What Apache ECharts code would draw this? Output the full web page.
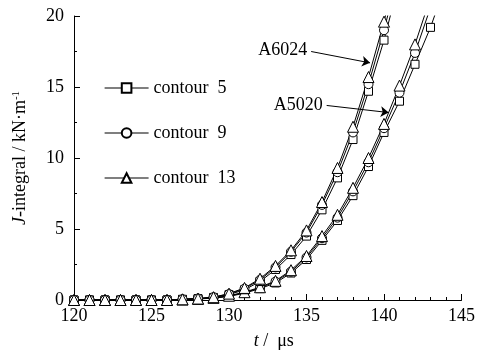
<!DOCTYPE html>
<html>
<head>
    <meta charset="utf-8" />
    <title>J-integral</title>
    <script src="https://cdn.jsdelivr.net/npm/echarts@6.0.0/dist/echarts.min.js"></script>
</head>
<body style="margin:0">
    <div id="main" style="width: 478px;height:355px;"></div>
    <script type="text/javascript">
        // time steps (μs)
        var times = [120, 121, 122, 123, 124, 125, 126, 127, 128, 129, 130, 131, 132,
            133, 134, 135, 136, 137, 138, 139, 140, 141, 142, 143, 144];

        // A6024 curves (kN·m-1)
        var a6024_c5 = [0, 0, 0, 0, 0, 0, 0, 0.05, 0.1, 0.18, 0.38, 0.72, 1.3, 2.15, 3.2, 4.5, 6.35, 8.6, 11.3, 14.7, 18.3, 22.5];
        var a6024_c9 = [0, 0, 0, 0, 0, 0, 0, 0.05, 0.1, 0.2, 0.42, 0.8, 1.42, 2.3, 3.4, 4.75, 6.7, 9.0, 11.8, 15.2, 19.0, 23.3];
        var a6024_c13 = [0, 0, 0, 0, 0, 0, 0, 0.05, 0.1, 0.2, 0.45, 0.85, 1.5, 2.4, 3.5, 4.9, 6.9, 9.3, 12.2, 15.7, 19.6, 24.0];
        // A5020 curves
        var a5020_c5 = [0, 0, 0, 0, 0, 0, 0, 0.03, 0.07, 0.13, 0.25, 0.48, 0.8, 1.2, 1.9, 2.85, 4.2, 5.6, 7.35, 9.4, 11.8, 14.0, 16.6, 19.2, 22.3];
        var a5020_c9 = [0, 0, 0, 0, 0, 0, 0, 0.03, 0.08, 0.14, 0.28, 0.52, 0.85, 1.3, 2.0, 3.0, 4.35, 5.8, 7.65, 9.7, 12.1, 14.6, 17.4, 20.6, 24.0];
        var a5020_c13 = [0, 0, 0, 0, 0, 0, 0, 0.03, 0.08, 0.15, 0.3, 0.55, 0.9, 1.35, 2.1, 3.1, 4.5, 6.0, 7.9, 10.0, 12.4, 15.1, 18.0, 21.3, 24.8];

        var legendNames = ['contour 5', 'contour 9', 'contour 13'];
        var xTicks = [120, 125, 130, 135, 140, 145];
        var yTicks = [0, 5, 10, 15, 20];

        var font = 'Liberation Serif';

        function pairs(vals) {
            return vals.map(function (v, i) { return [times[i], v]; });
        }

        function mkSeries(name, vals, symbol, size, extra) {
            var s = {
                name: name,
                type: 'line',
                data: pairs(vals),
                symbol: symbol,
                symbolSize: size,
                showAllSymbol: true,
                clip: true,
                lineStyle: { color: '#000', width: 1 },
                itemStyle: { color: '#fff', borderColor: '#000', borderWidth: 1 },
                emphasis: { disabled: true },
                animation: false
            };
            if (extra) { s.markLine = extra; }
            return s;
        }

        var arrows = {
            silent: true,
            animation: false,
            symbol: ['none', 'arrow'],
            symbolSize: 8,
            lineStyle: { color: '#000', width: 1, type: 'solid' },
            label: {
                show: true, position: 'start', formatter: '{b}', distance: 4,
                color: '#000', fontFamily: font, fontSize: 18
            },
            data: [
                [{ name: 'A6024', coord: [135.3, 17.5] }, { coord: [139.1, 16.7] }],
                [{ name: 'A5020', coord: [136.3, 13.7] }, { coord: [140.3, 13.2] }]
            ]
        };

        var myChart = echarts.init(document.getElementById('main'));

        var option = {
            backgroundColor: '#fff',
            animation: false,
            grid: { left: 74, right: 14, top: 16, bottom: 52 },
            legend: {
                data: legendNames,
                orient: 'vertical',
                left: 99,
                top: 74,
                itemWidth: 44,
                itemHeight: 12,
                itemGap: 27,
                selectedMode: false,
                lineStyle: { width: 1.2, color: '#000' },
                formatter: function (n) { return n.replace(' ', '  '); },
                textStyle: { fontFamily: font, fontSize: 18, color: '#000' }
            },
            xAxis: {
                type: 'value',
                min: 120,
                max: 145,
                interval: 5,
                name: '{i|t} /  μs',
                nameLocation: 'middle',
                nameGap: 32,
                nameTextStyle: {
                    fontFamily: font, fontSize: 18, color: '#000', padding: [0, 0, 0, 12],
                    rich: { i: { fontStyle: 'italic', fontFamily: font, fontSize: 18 } }
                },
                axisLine: { lineStyle: { color: '#000', width: 1 } },
                axisTick: { inside: true, length: 6, lineStyle: { color: '#000' } },
                minorTick: { show: true, splitNumber: 5, length: 3, lineStyle: { color: '#000' } },
                axisLabel: {
                    fontFamily: font, fontSize: 18, color: '#000', margin: 7,
                    formatter: function (v) { return xTicks.indexOf(v) >= 0 ? String(v) : ''; }
                },
                splitLine: { show: false }
            },
            yAxis: {
                type: 'value',
                min: 0,
                max: 20,
                interval: 5,
                name: '{i|J}-integral / kN·m{sup|-1}',
                nameLocation: 'middle',
                nameGap: 44,
                nameTextStyle: {
                    fontFamily: font, fontSize: 18, color: '#000',
                    rich: {
                        i: { fontStyle: 'italic', fontFamily: font, fontSize: 18 },
                        sup: { fontFamily: font, fontSize: 11, verticalAlign: 'top', padding: [0, 0, 8, 0] }
                    }
                },
                axisLine: { show: true, lineStyle: { color: '#000', width: 1 } },
                axisTick: { show: true, inside: true, length: 6, lineStyle: { color: '#000' } },
                minorTick: { show: true, splitNumber: 2, length: 3, lineStyle: { color: '#000' } },
                axisLabel: {
                    fontFamily: font, fontSize: 18, color: '#000', margin: 10,
                    formatter: function (v) { return yTicks.indexOf(v) >= 0 ? String(v) : ''; }
                },
                splitLine: { show: false }
            },
            series: [
                mkSeries('contour 5', a5020_c5, 'rect', 8),
                mkSeries('contour 9', a5020_c9, 'circle', 9),
                mkSeries('contour 13', a5020_c13, 'triangle', 11),
                mkSeries('contour 5', a6024_c5, 'rect', 8),
                mkSeries('contour 9', a6024_c9, 'circle', 9),
                mkSeries('contour 13', a6024_c13, 'triangle', 11, arrows)
            ]
        };

        myChart.setOption(option);
    </script>
</body>
</html>
